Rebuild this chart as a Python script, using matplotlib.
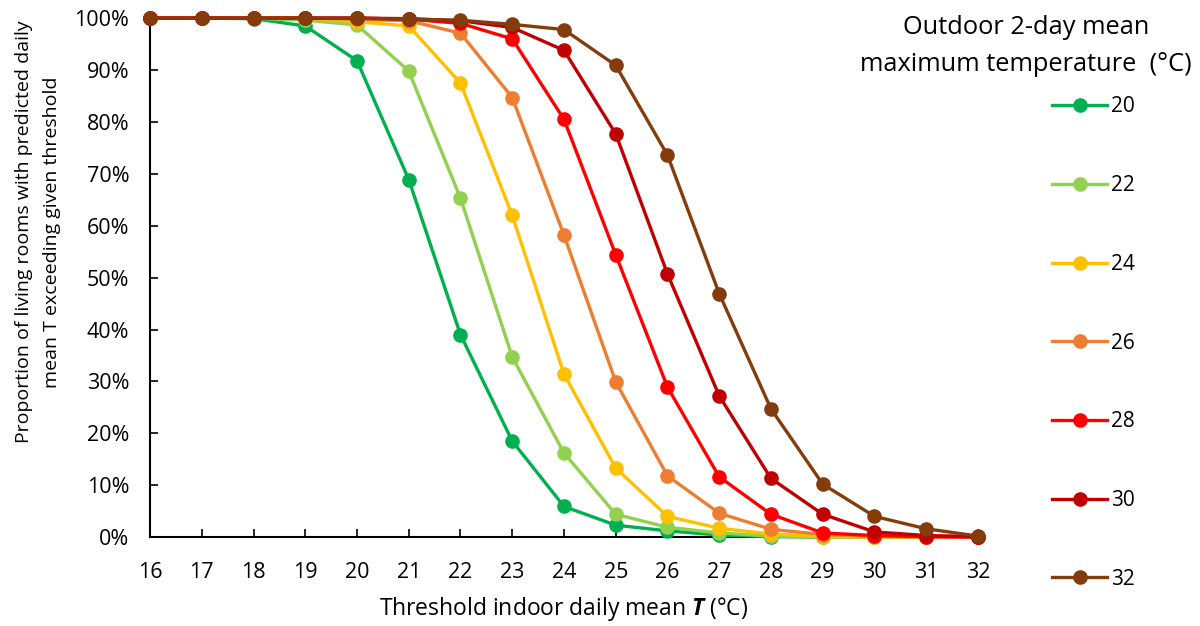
import matplotlib

matplotlib.use("Agg")
import matplotlib.pyplot as plt
from matplotlib.ticker import PercentFormatter

plt.rcParams["font.family"] = ["Open Sans", "DejaVu Sans"]
plt.rcParams["mathtext.fontset"] = "custom"
plt.rcParams["mathtext.bfit"] = "Open Sans:italic:bold"

# threshold indoor daily mean T (deg C)
thresholds = list(range(16, 33))

# outdoor 2-day mean maximum temperature series
outdoor_temps = ["20", "22", "24", "26", "28", "30", "32"]
colors = ["#00B050", "#92D050", "#FFC000", "#ED7D31", "#FF0000", "#C00000", "#843C0C"]

# proportion (%) of living rooms exceeding threshold
p20 = [100, 100, 99.9, 98.5, 91.8, 68.9, 39.0, 18.5, 5.9, 2.3, 1.2, 0.4, 0.1, 0, 0, 0, 0]
p22 = [100, 100, 100, 99.6, 98.7, 89.8, 65.3, 34.7, 16.2, 4.4, 1.9, 0.8, 0.2, 0, 0, 0, 0]
p24 = [100, 100, 100, 100, 99.3, 98.5, 87.5, 62.0, 31.4, 13.3, 4.0, 1.7, 0.6, 0.1, 0, 0, 0]
p26 = [100, 100, 100, 100, 99.8, 99.5, 97.1, 84.7, 58.2, 29.9, 11.8, 4.6, 1.5, 0.5, 0.2, 0, 0]
p28 = [100, 100, 100, 100, 100, 99.8, 99.0, 96.0, 80.5, 54.4, 28.9, 11.6, 4.4, 0.8, 0.3, 0.1, 0]
p30 = [100, 100, 100, 100, 100, 99.9, 99.5, 98.2, 93.8, 77.7, 50.7, 27.2, 11.3, 4.4, 1.0, 0.3, 0.1]
p32 = [100, 100, 100, 100, 100, 99.8, 99.6, 98.8, 97.8, 90.9, 73.6, 46.9, 24.7, 10.2, 4.0, 1.6, 0.2]

series = [p20, p22, p24, p26, p28, p30, p32]

fig = plt.figure(figsize=(12, 6.26), dpi=100)
ax = fig.add_axes([0.125, 0.142, 0.69, 0.829])

for label, vals, c in zip(outdoor_temps, series, colors):
    ax.plot(thresholds, [v / 100 for v in vals], color=c, lw=2.4, marker="o",
            markersize=9.5, label=label, clip_on=False, zorder=3)

ax.set_xlim(16, 32)
ax.set_ylim(0, 1)
ax.set_xticks(thresholds)
ax.set_yticks([i / 10 for i in range(11)])
ax.yaxis.set_major_formatter(PercentFormatter(1.0, decimals=0))
ax.tick_params(direction="in", length=6, width=1.2, labelsize=15.5, pad=15)
ax.tick_params(axis="x", pad=18)
for side in ["top", "right"]:
    ax.spines[side].set_visible(False)
for side in ["left", "bottom"]:
    ax.spines[side].set_linewidth(1.5)
    ax.spines[side].set_color("black")

# axis titles placed in figure pixels to follow the reference layout
fig.text(564 / 1200, 1 - 609 / 626, "Threshold indoor daily mean $\\mathbfit{T}$ (°C)",
         ha="center", va="center", fontsize=16.5)
fig.text(38 / 1200, 1 - 232 / 626,
         "Proportion of living rooms with predicted daily\nmean T exceeding given threshold",
         ha="center", va="center", rotation=90, fontsize=14, linespacing=1.75,
         multialignment="center")

fig.text(1026 / 1200, 1 - 46 / 626, "Outdoor 2-day mean\nmaximum temperature  (°C)",
         ha="center", va="center", fontsize=18.3, linespacing=1.58)

leg = fig.legend(loc="upper left", bbox_to_anchor=(1042 / 1200, 1 - 86 / 626), frameon=False,
                 fontsize=15, labelspacing=2.77, handlelength=2.6, handletextpad=0.2,
                 borderpad=0)

fig.savefig("out.png", dpi=100)
